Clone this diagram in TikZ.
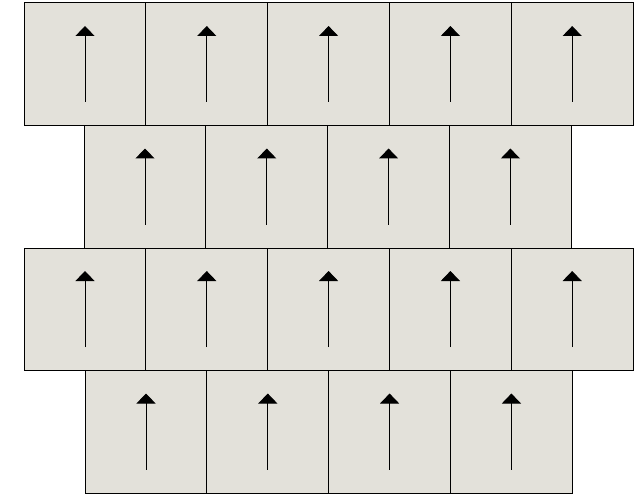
\documentclass[tikz,border=0pt]{standalone}
\usepackage{tikz}
\usetikzlibrary{shapes, arrows.meta, positioning}
\definecolor{TileGray}{RGB}{227,225,218}

\begin{document}
\begin{tikzpicture}[x=1pt, y=-1pt,
  tile/.style={draw, fill=TileGray, line width=1pt, minimum width=122pt, minimum height=122.5pt, inner sep=0pt, anchor=north west},
  spin/.style={-{Triangle[width=19pt,length=10pt]}, line width=1pt}]
  \useasboundingbox (0,0) rectangle (644,494);
  % Hàng ô, mỗi ô một mũi tên hướng lên
  \foreach \r/\x/\n in {1/23.5/5, 2/83.5/4, 3/23.5/5, 4/84.5/4} {
    \foreach \c in {1,...,\n} {
      \node[tile] (t\r\c) at ({\x+(\c-1)*121.8}, {2.5+(\r-1)*122.5}) {};
      \draw[spin] ([yshift=24pt]t\r\c.south) -- ([yshift=-23.5pt]t\r\c.north);
    }
  }
\end{tikzpicture}
\end{document}
